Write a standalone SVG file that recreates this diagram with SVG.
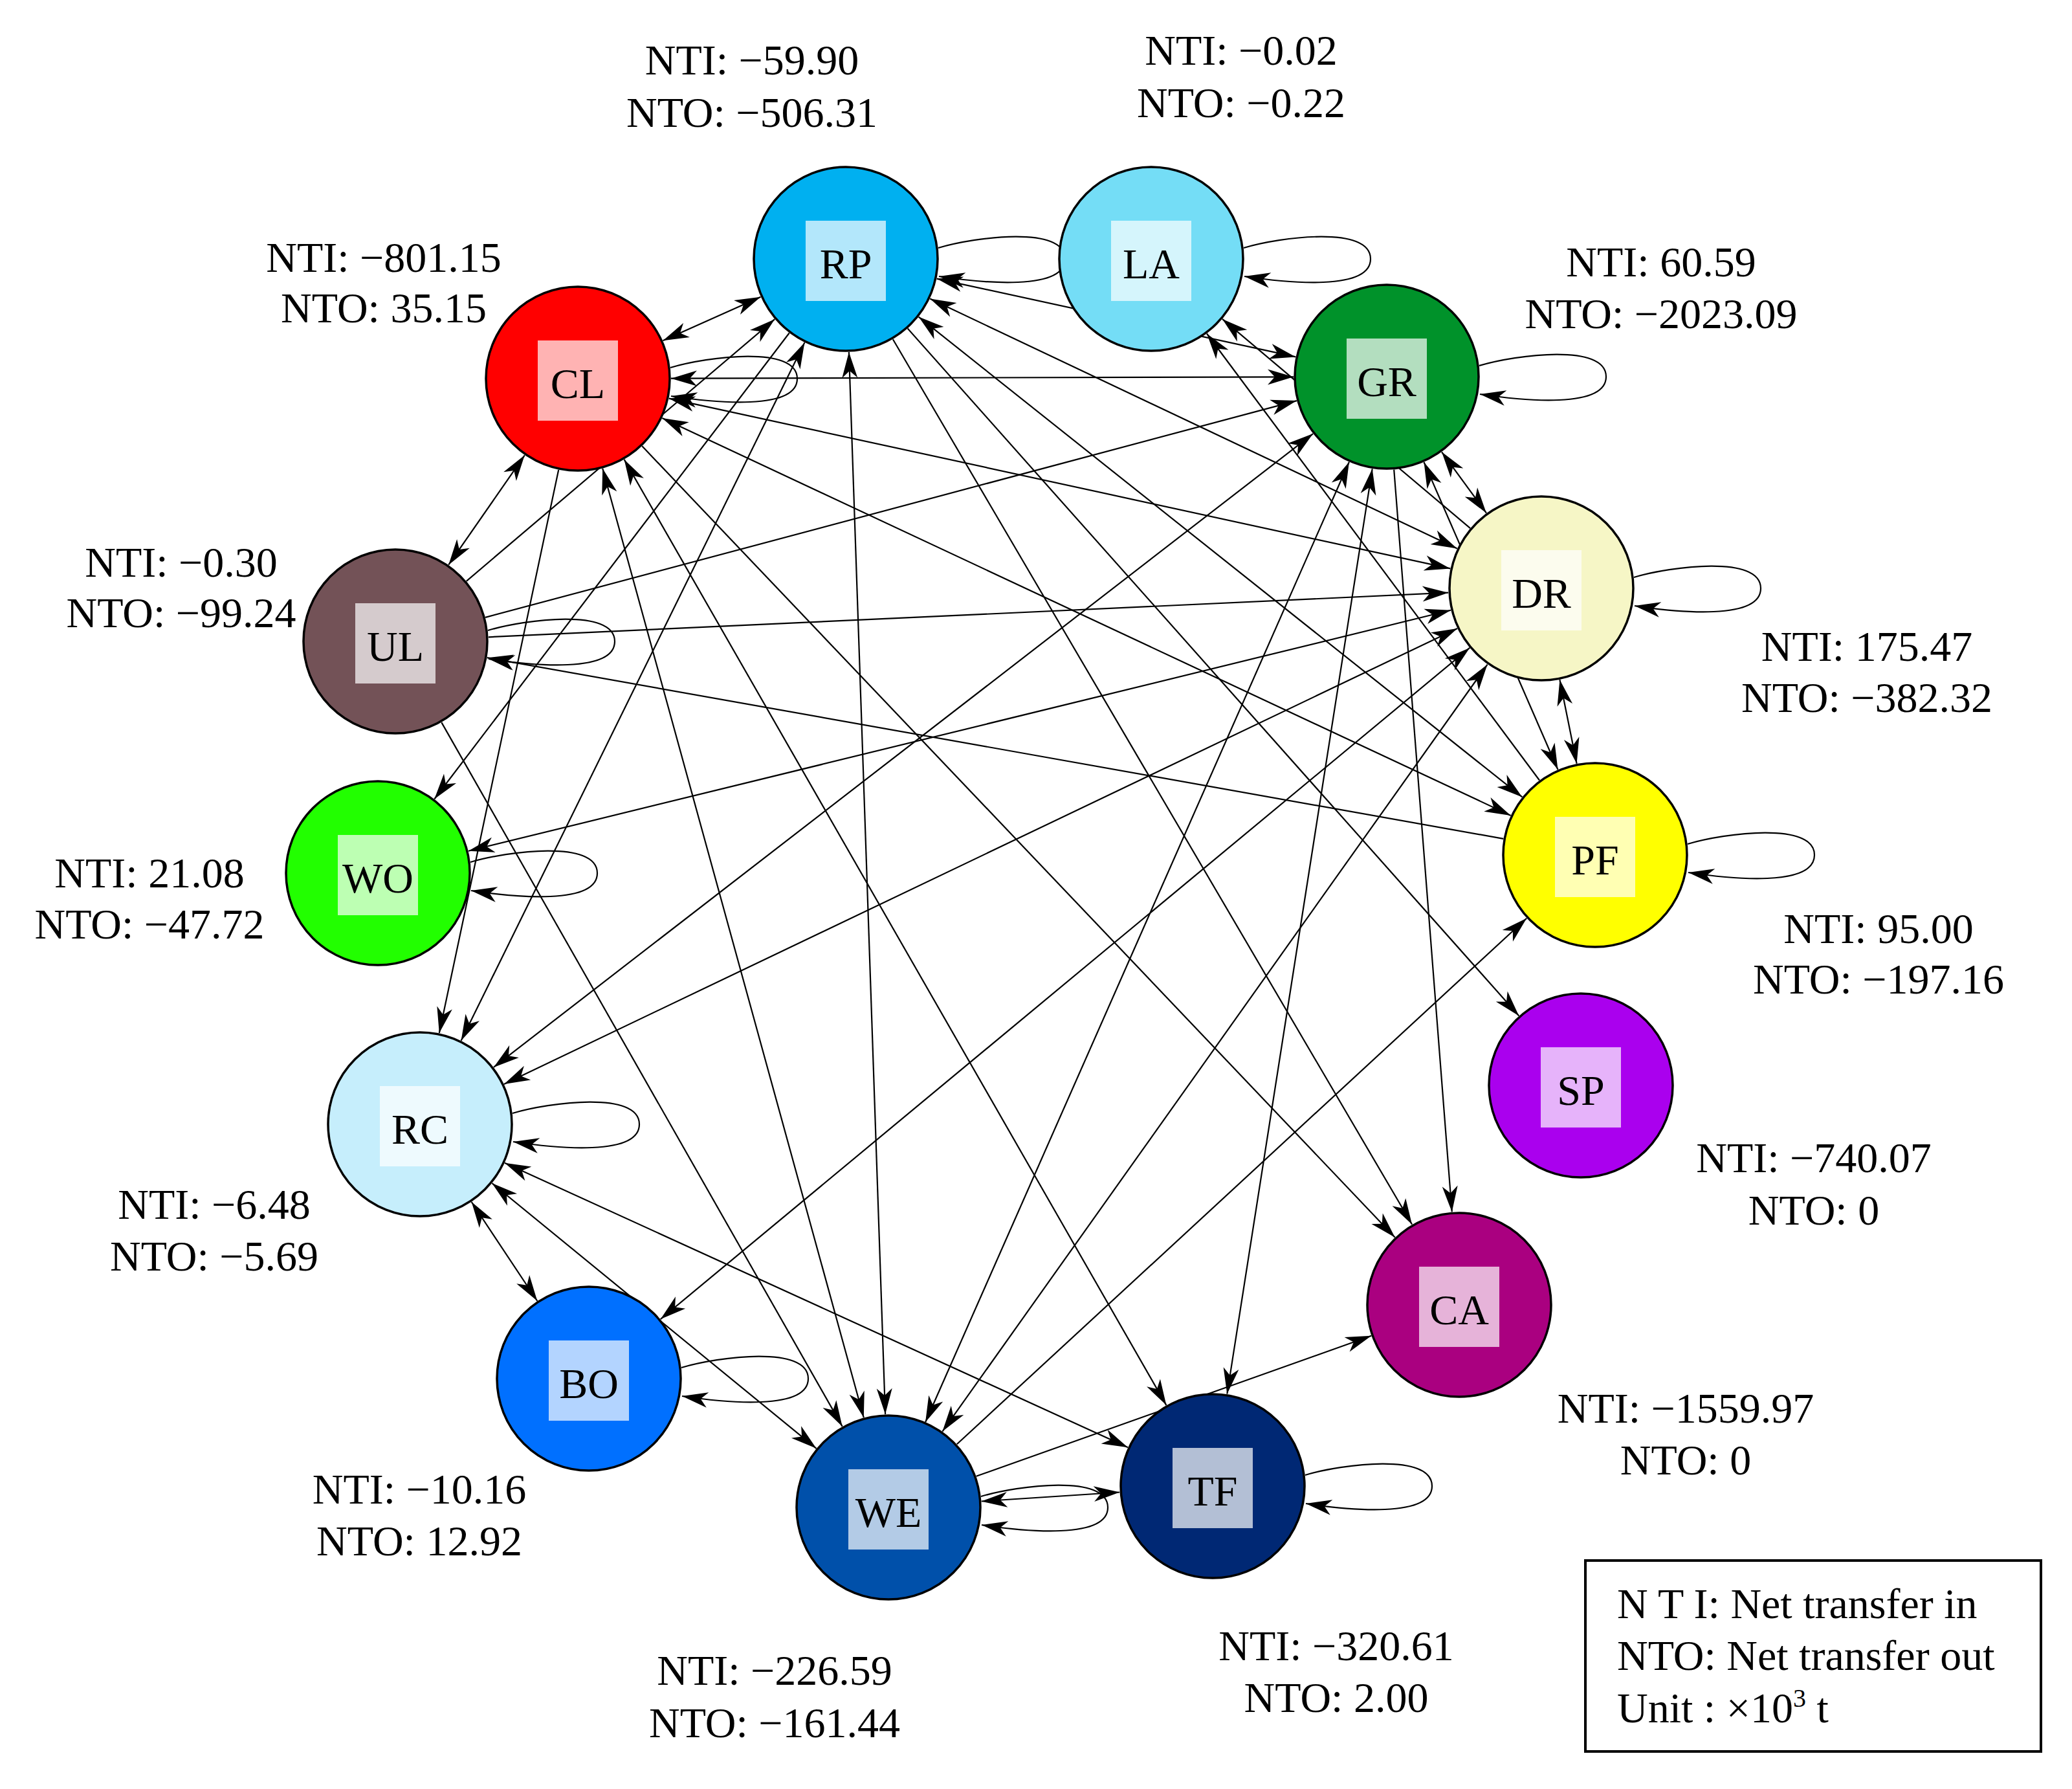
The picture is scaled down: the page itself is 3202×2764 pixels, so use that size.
<svg xmlns="http://www.w3.org/2000/svg" width="3202" height="2764" viewBox="0 0 3202 2764">
<style>
.edge{fill:none;stroke:#000;stroke-width:2.2}
.uni{marker-end:url(#arr)}
.bi{marker-start:url(#arr);marker-end:url(#arr)}
.loop{fill:none;stroke:#000;stroke-width:2.2;marker-end:url(#arr)}
.disc{stroke:#000;stroke-width:3.5}
.box{fill:#fff;fill-opacity:0.7}
.lbl{font-family:'Liberation Serif','Times New Roman',serif;font-size:66px;text-anchor:middle;fill:#000}
.ann{font-family:'Liberation Serif','Times New Roman',serif;font-size:66px;text-anchor:middle;fill:#000}
.leg{font-family:'Liberation Serif','Times New Roman',serif;font-size:66px;fill:#000}
</style>
<defs>
<marker id="arr" viewBox="-44 -14 46 28" refX="0" refY="0" markerWidth="46" markerHeight="28" markerUnits="userSpaceOnUse" orient="auto-start-reverse">
<path d="M0,0 L-40,-12 L-29,0 L-40,12 Z" fill="#000"/>
</marker>
</defs>
<rect width="3202" height="2764" fill="#fff"/>
<g id="connectors">
<line class="edge bi" x1="1024.5" y1="526.3" x2="1175.5" y2="458.7"/>
<line class="edge bi" x1="810.8" y1="703.3" x2="693.2" y2="872.7"/>
<line class="edge bi" x1="1037" y1="584.7" x2="1999" y2="582.3"/>
<line class="edge bi" x1="1033.7" y1="615.6" x2="2241.3" y2="878.4"/>
<line class="edge bi" x1="1023.4" y1="646.1" x2="2334.6" y2="1259.9"/>
<line class="edge bi" x1="931.2" y1="723.8" x2="1334.8" y2="2190.2"/>
<line class="edge bi" x1="964.6" y1="709.9" x2="1802.4" y2="2171.1"/>
<line class="edge bi" x1="1447.7" y1="430.6" x2="2002.3" y2="551.4"/>
<line class="edge bi" x1="1437.2" y1="461.6" x2="2251.8" y2="847.4"/>
<line class="edge bi" x1="1419.7" y1="489.6" x2="2352.3" y2="1231.4"/>
<line class="edge bi" x1="1311.9" y1="543.9" x2="1368.1" y2="2185.1"/>
<line class="edge bi" x1="1243.4" y1="529.2" x2="712.6" y2="1607.8"/>
<line class="edge bi" x1="2228" y1="698.3" x2="2297" y2="792.7"/>
<line class="edge bi" x1="2200.5" y1="714" x2="2407.5" y2="1189"/>
<line class="edge bi" x1="2084.9" y1="713.8" x2="1430.1" y2="2197.2"/>
<line class="edge bi" x1="2120.7" y1="724.3" x2="1896.3" y2="2153.7"/>
<line class="edge bi" x1="2029.1" y1="670.1" x2="762.9" y2="1648.9"/>
<line class="edge bi" x1="723.9" y1="1314.8" x2="2242.1" y2="942.8"/>
<line class="edge bi" x1="778.9" y1="1674.9" x2="2252.1" y2="970.9"/>
<line class="edge bi" x1="1020.8" y1="2038.1" x2="2271.2" y2="1000.9"/>
<line class="edge bi" x1="1456.4" y1="2211.6" x2="2298.6" y2="1026.6"/>
<line class="edge bi" x1="2410.4" y1="1050.2" x2="2436.6" y2="1179.8"/>
<line class="edge bi" x1="1516.7" y1="2319.5" x2="1730.3" y2="2305.5"/>
<line class="edge bi" x1="780" y1="1796.8" x2="1743" y2="2236.2"/>
<line class="edge bi" x1="760.5" y1="1828.2" x2="1261.5" y2="2237.8"/>
<line class="edge bi" x1="728.7" y1="1857" x2="830.3" y2="2010"/>
<line class="edge uni" x1="992.3" y1="689.3" x2="2155.7" y2="1911.7"/>
<line class="edge uni" x1="863.2" y1="725.9" x2="678.8" y2="1596.1"/>
<line class="edge uni" x1="1219.7" y1="514.5" x2="671.3" y2="1234.5"/>
<line class="edge uni" x1="1379.9" y1="524.2" x2="2182.1" y2="1891.8"/>
<line class="edge uni" x1="1402.7" y1="507.6" x2="2347.3" y2="1569.4"/>
<line class="edge uni" x1="720.8" y1="897.8" x2="1197.2" y2="493.2"/>
<line class="edge uni" x1="750.1" y1="953.9" x2="2003.9" y2="619.1"/>
<line class="edge uni" x1="754.8" y1="984.3" x2="2238.2" y2="915.7"/>
<line class="edge uni" x1="682.3" y1="1116.1" x2="1301.7" y2="2203.9"/>
<line class="edge uni" x1="2323.2" y1="1295.8" x2="752.8" y2="1016.2"/>
<line class="edge uni" x1="2379" y1="1205.5" x2="1865" y2="515.5"/>
<line class="edge uni" x1="2272" y1="816.1" x2="1889" y2="492.9"/>
<line class="edge uni" x1="2154.2" y1="725.6" x2="2243.8" y2="1872.4"/>
<line class="edge uni" x1="1478.8" y1="2231.3" x2="2359.2" y2="1418.7"/>
<line class="edge uni" x1="1508.7" y1="2280.8" x2="2119.3" y2="2063.8"/>
<path class="loop" d="M1450,383 c57,-17 196,-35 196,17 c0,50 -129,37 -195,27"/>
<path class="loop" d="M1922,383 c57,-17 196,-35 196,17 c0,50 -129,37 -195,27"/>
<path class="loop" d="M2286,565 c57,-17 196,-35 196,17 c0,50 -129,37 -195,27"/>
<path class="loop" d="M2525,892 c57,-17 196,-35 196,17 c0,50 -129,37 -195,27"/>
<path class="loop" d="M2608,1304 c57,-17 196,-35 196,17 c0,50 -129,37 -195,27"/>
<path class="loop" d="M754,974 c57,-17 196,-35 196,17 c0,50 -129,37 -195,27"/>
<path class="loop" d="M727,1332 c57,-17 196,-35 196,17 c0,50 -129,37 -195,27"/>
<path class="loop" d="M792,1720 c57,-17 196,-35 196,17 c0,50 -129,37 -195,27"/>
<path class="loop" d="M1053,2113 c57,-17 196,-35 196,17 c0,50 -129,37 -195,27"/>
<path class="loop" d="M2017,2279 c57,-17 196,-35 196,17 c0,50 -129,37 -195,27"/>
<path class="loop" d="M1036,568 c57,-17 196,-35 196,17 c0,50 -129,37 -195,27"/>
<path class="loop" d="M1516,2312 c57,-17 196,-35 196,17 c0,50 -129,37 -195,27"/>
</g>
<g id="node-RP"><circle class="disc" cx="1307" cy="400" r="142" fill="#00B0F0"/><rect class="box" x="1245" y="341" width="124" height="124"/><text class="lbl" x="1307" y="430">RP</text>
<text class="ann" x="1162" y="115">NTI: −59.90</text><text class="ann" x="1162" y="196">NTO: −506.31</text></g>
<g id="node-LA"><circle class="disc" cx="1779" cy="400" r="142" fill="#74DDF6"/><rect class="box" x="1717" y="341" width="124" height="124"/><text class="lbl" x="1779" y="430">LA</text>
<text class="ann" x="1918" y="100">NTI: −0.02</text><text class="ann" x="1918" y="181">NTO: −0.22</text></g>
<g id="node-GR"><circle class="disc" cx="2143" cy="582" r="142" fill="#00922A"/><rect class="box" x="2081" y="523" width="124" height="124"/><text class="lbl" x="2143" y="612">GR</text>
<text class="ann" x="2567" y="427">NTI: 60.59</text><text class="ann" x="2567" y="507">NTO: −2023.09</text></g>
<g id="node-DR"><circle class="disc" cx="2382" cy="909" r="142" fill="#F6F6C6"/><rect class="box" x="2320" y="850" width="124" height="124"/><text class="lbl" x="2382" y="939">DR</text>
<text class="ann" x="2885" y="1021">NTI: 175.47</text><text class="ann" x="2885" y="1100">NTO: −382.32</text></g>
<g id="node-PF"><circle class="disc" cx="2465" cy="1321" r="142" fill="#FFFF00"/><rect class="box" x="2403" y="1262" width="124" height="124"/><text class="lbl" x="2465" y="1351">PF</text>
<text class="ann" x="2903" y="1457">NTI: 95.00</text><text class="ann" x="2903" y="1535">NTO: −197.16</text></g>
<g id="node-SP"><circle class="disc" cx="2443" cy="1677" r="142" fill="#AA00EE"/><rect class="box" x="2381" y="1618" width="124" height="124"/><text class="lbl" x="2443" y="1707">SP</text>
<text class="ann" x="2803" y="1811">NTI: −740.07</text><text class="ann" x="2803" y="1892">NTO: 0</text></g>
<g id="node-CA"><circle class="disc" cx="2255" cy="2016" r="142" fill="#AA0080"/><rect class="box" x="2193" y="1957" width="124" height="124"/><text class="lbl" x="2255" y="2046">CA</text>
<text class="ann" x="2605" y="2198">NTI: −1559.97</text><text class="ann" x="2605" y="2278">NTO: 0</text></g>
<g id="node-TF"><circle class="disc" cx="1874" cy="2296" r="142" fill="#002874"/><rect class="box" x="1812" y="2237" width="124" height="124"/><text class="lbl" x="1874" y="2326">TF</text>
<text class="ann" x="2065" y="2565">NTI: −320.61</text><text class="ann" x="2065" y="2645">NTO: 2.00</text></g>
<g id="node-WE"><circle class="disc" cx="1373" cy="2329" r="142" fill="#0050AA"/><rect class="box" x="1311" y="2270" width="124" height="124"/><text class="lbl" x="1373" y="2359">WE</text>
<text class="ann" x="1197" y="2603">NTI: −226.59</text><text class="ann" x="1197" y="2684">NTO: −161.44</text></g>
<g id="node-BO"><circle class="disc" cx="910" cy="2130" r="142" fill="#0070FF"/><rect class="box" x="848" y="2071" width="124" height="124"/><text class="lbl" x="910" y="2160">BO</text>
<text class="ann" x="648" y="2323">NTI: −10.16</text><text class="ann" x="648" y="2403">NTO: 12.92</text></g>
<g id="node-RC"><circle class="disc" cx="649" cy="1737" r="142" fill="#C6EEFC"/><rect class="box" x="587" y="1678" width="124" height="124"/><text class="lbl" x="649" y="1767">RC</text>
<text class="ann" x="331" y="1883">NTI: −6.48</text><text class="ann" x="331" y="1963">NTO: −5.69</text></g>
<g id="node-WO"><circle class="disc" cx="584" cy="1349" r="142" fill="#22FF00"/><rect class="box" x="522" y="1290" width="124" height="124"/><text class="lbl" x="584" y="1379">WO</text>
<text class="ann" x="231" y="1371">NTI: 21.08</text><text class="ann" x="231" y="1450">NTO: −47.72</text></g>
<g id="node-UL"><circle class="disc" cx="611" cy="991" r="142" fill="#735257"/><rect class="box" x="549" y="932" width="124" height="124"/><text class="lbl" x="611" y="1021">UL</text>
<text class="ann" x="280" y="891">NTI: −0.30</text><text class="ann" x="280" y="969">NTO: −99.24</text></g>
<g id="node-CL"><circle class="disc" cx="893" cy="585" r="142" fill="#FF0000"/><rect class="box" x="831" y="526" width="124" height="124"/><text class="lbl" x="893" y="615">CL</text>
<text class="ann" x="593" y="420">NTI: −801.15</text><text class="ann" x="593" y="498">NTO: 35.15</text></g>
<g id="legend">
<rect x="2450" y="2411" width="704" height="295" fill="#fff" stroke="#000" stroke-width="4"/>
<text class="leg" x="2499" y="2500">N T I: Net transfer in</text>
<text class="leg" x="2499" y="2580">NTO: Net transfer out</text>
<text class="leg" x="2499" y="2661">Unit : ×10<tspan font-size="40" dy="-24">3</tspan><tspan dy="24"> t</tspan></text>
</g>
</svg>
